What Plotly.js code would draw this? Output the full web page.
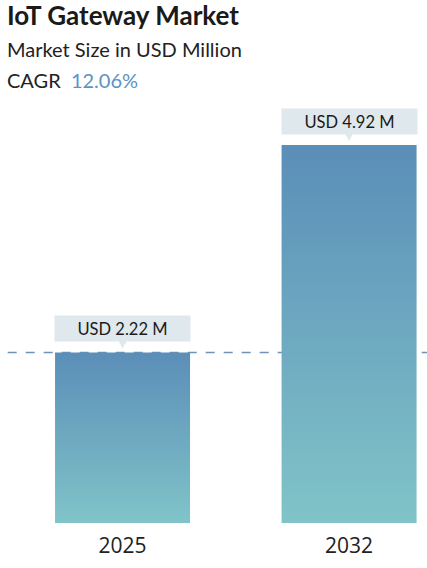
<!DOCTYPE html>
<html>
<head>
<meta charset="utf-8">
<script src="https://cdn.plot.ly/plotly-3.0.1.min.js"></script>
<style>
  html, body { margin: 0; padding: 0; background: #fff; }
  #chart { width: 427px; height: 568px; }
</style>
</head>
<body>
<div id="chart"></div>
<script>
// chart data
var YEARS = ['2025', '2032'];
var MARKET_SIZE = [2.22, 4.92];
var VALUE_LABELS = ['USD 2.22 M', 'USD 4.92 M'];
var TITLE = 'IoT Gateway Market';
var SUBTITLE = 'Market Size in USD Million';
var CAGR = '12.06%';

var CHART = document.getElementById('chart');
var TOP_COLOR = '#5b8eb8';
var BOTTOM_COLOR = '#80c4c8';
var LABEL_BG = '#dfe8ec';
var FONT = 'Lato, "Open Sans", sans-serif';

function drawChart()
{
    var trace = {x: [0, 1],
                 y: MARKET_SIZE,
                 type: 'bar',
                 width: 0.596,
                 marker: {color: TOP_COLOR, line: {width: 0}},
                 hoverinfo: 'skip'
                };

    var annotations = [
        {text: '<b>' + TITLE + '</b>', xref: 'paper', yref: 'paper', x: 0.012, y: 1.2,
         xanchor: 'left', yanchor: 'middle', showarrow: false,
         font: {family: FONT, size: 26, color: '#1a1a1a'}},
        {text: SUBTITLE, xref: 'paper', yref: 'paper', x: 0.012, y: 1.12,
         xanchor: 'left', yanchor: 'middle', showarrow: false,
         font: {family: FONT, size: 20, color: '#222'}},
        {text: 'CAGR  <span style="color:#5b93c2">' + CAGR + '</span>', xref: 'paper', yref: 'paper',
         x: 0.012, y: 1.048, xanchor: 'left', yanchor: 'middle', showarrow: false,
         font: {family: FONT, size: 20, color: '#222'}}
    ];

    MARKET_SIZE.forEach(function(v, i) {
        // little pointer under the label box
        annotations.push({text: '', x: i, y: v, xref: 'x', yref: 'y',
                          showarrow: true, ax: 0, ay: -16, standoff: 4,
                          arrowhead: 2, arrowsize: 0.6, arrowwidth: 6, arrowcolor: LABEL_BG});
        annotations.push({text: VALUE_LABELS[i], x: i, y: v, xref: 'x', yref: 'y',
                          showarrow: false, yanchor: 'bottom', yshift: 10,
                          width: 133, height: 23, bgcolor: LABEL_BG, borderpad: 1,
                          font: {family: FONT, size: 16.5, color: '#1a1a1a'}});
    });

    var layout = {showlegend: false,
                  width: 427, height: 568,
                  margin: {l: 0, r: 0, t: 100, b: 45},
                  paper_bgcolor: '#fff', plot_bgcolor: '#fff',
                  xaxis: {range: [-0.541, 1.344], tickvals: [0, 1], ticktext: YEARS,
                          showgrid: false, zeroline: false, showline: false, ticks: '',
                          ticklabelstandoff: 8,
                          tickfont: {family: '"Open Sans", sans-serif', size: 21, color: '#222'}},
                  yaxis: {range: [0, 5.506], visible: false, showgrid: false, zeroline: false},
                  shapes: [{type: 'line', xref: 'paper', yref: 'y', x0: 0.018, x1: 1,
                            y0: MARKET_SIZE[0], y1: MARKET_SIZE[0],
                            line: {color: '#6f93b5', width: 1.5, dash: 'dash'}, layer: 'below'}],
                  annotations: annotations
                 };

    var config = {displayModeBar: false, staticPlot: true};

    Plotly.newPlot(CHART, [trace], layout, config).then(function() {
        // vertical gradient on the bars
        var svg = CHART.querySelector('.main-svg');
        var ns = 'http://www.w3.org/2000/svg';
        var defs = svg.querySelector('defs') || svg.insertBefore(document.createElementNS(ns, 'defs'), svg.firstChild);
        var grad = document.createElementNS(ns, 'linearGradient');
        grad.setAttribute('id', 'barGrad');
        grad.setAttribute('x1', '0'); grad.setAttribute('y1', '0');
        grad.setAttribute('x2', '0'); grad.setAttribute('y2', '1');
        [[0, TOP_COLOR], [1, BOTTOM_COLOR]].forEach(function(s) {
            var stop = document.createElementNS(ns, 'stop');
            stop.setAttribute('offset', s[0]);
            stop.setAttribute('stop-color', s[1]);
            grad.appendChild(stop);
        });
        defs.appendChild(grad);
        CHART.querySelectorAll('.bars .point path').forEach(function(p) {
            p.style.fill = 'url(#barGrad)';
        });
    });
}

drawChart();
</script>
</body>
</html>
